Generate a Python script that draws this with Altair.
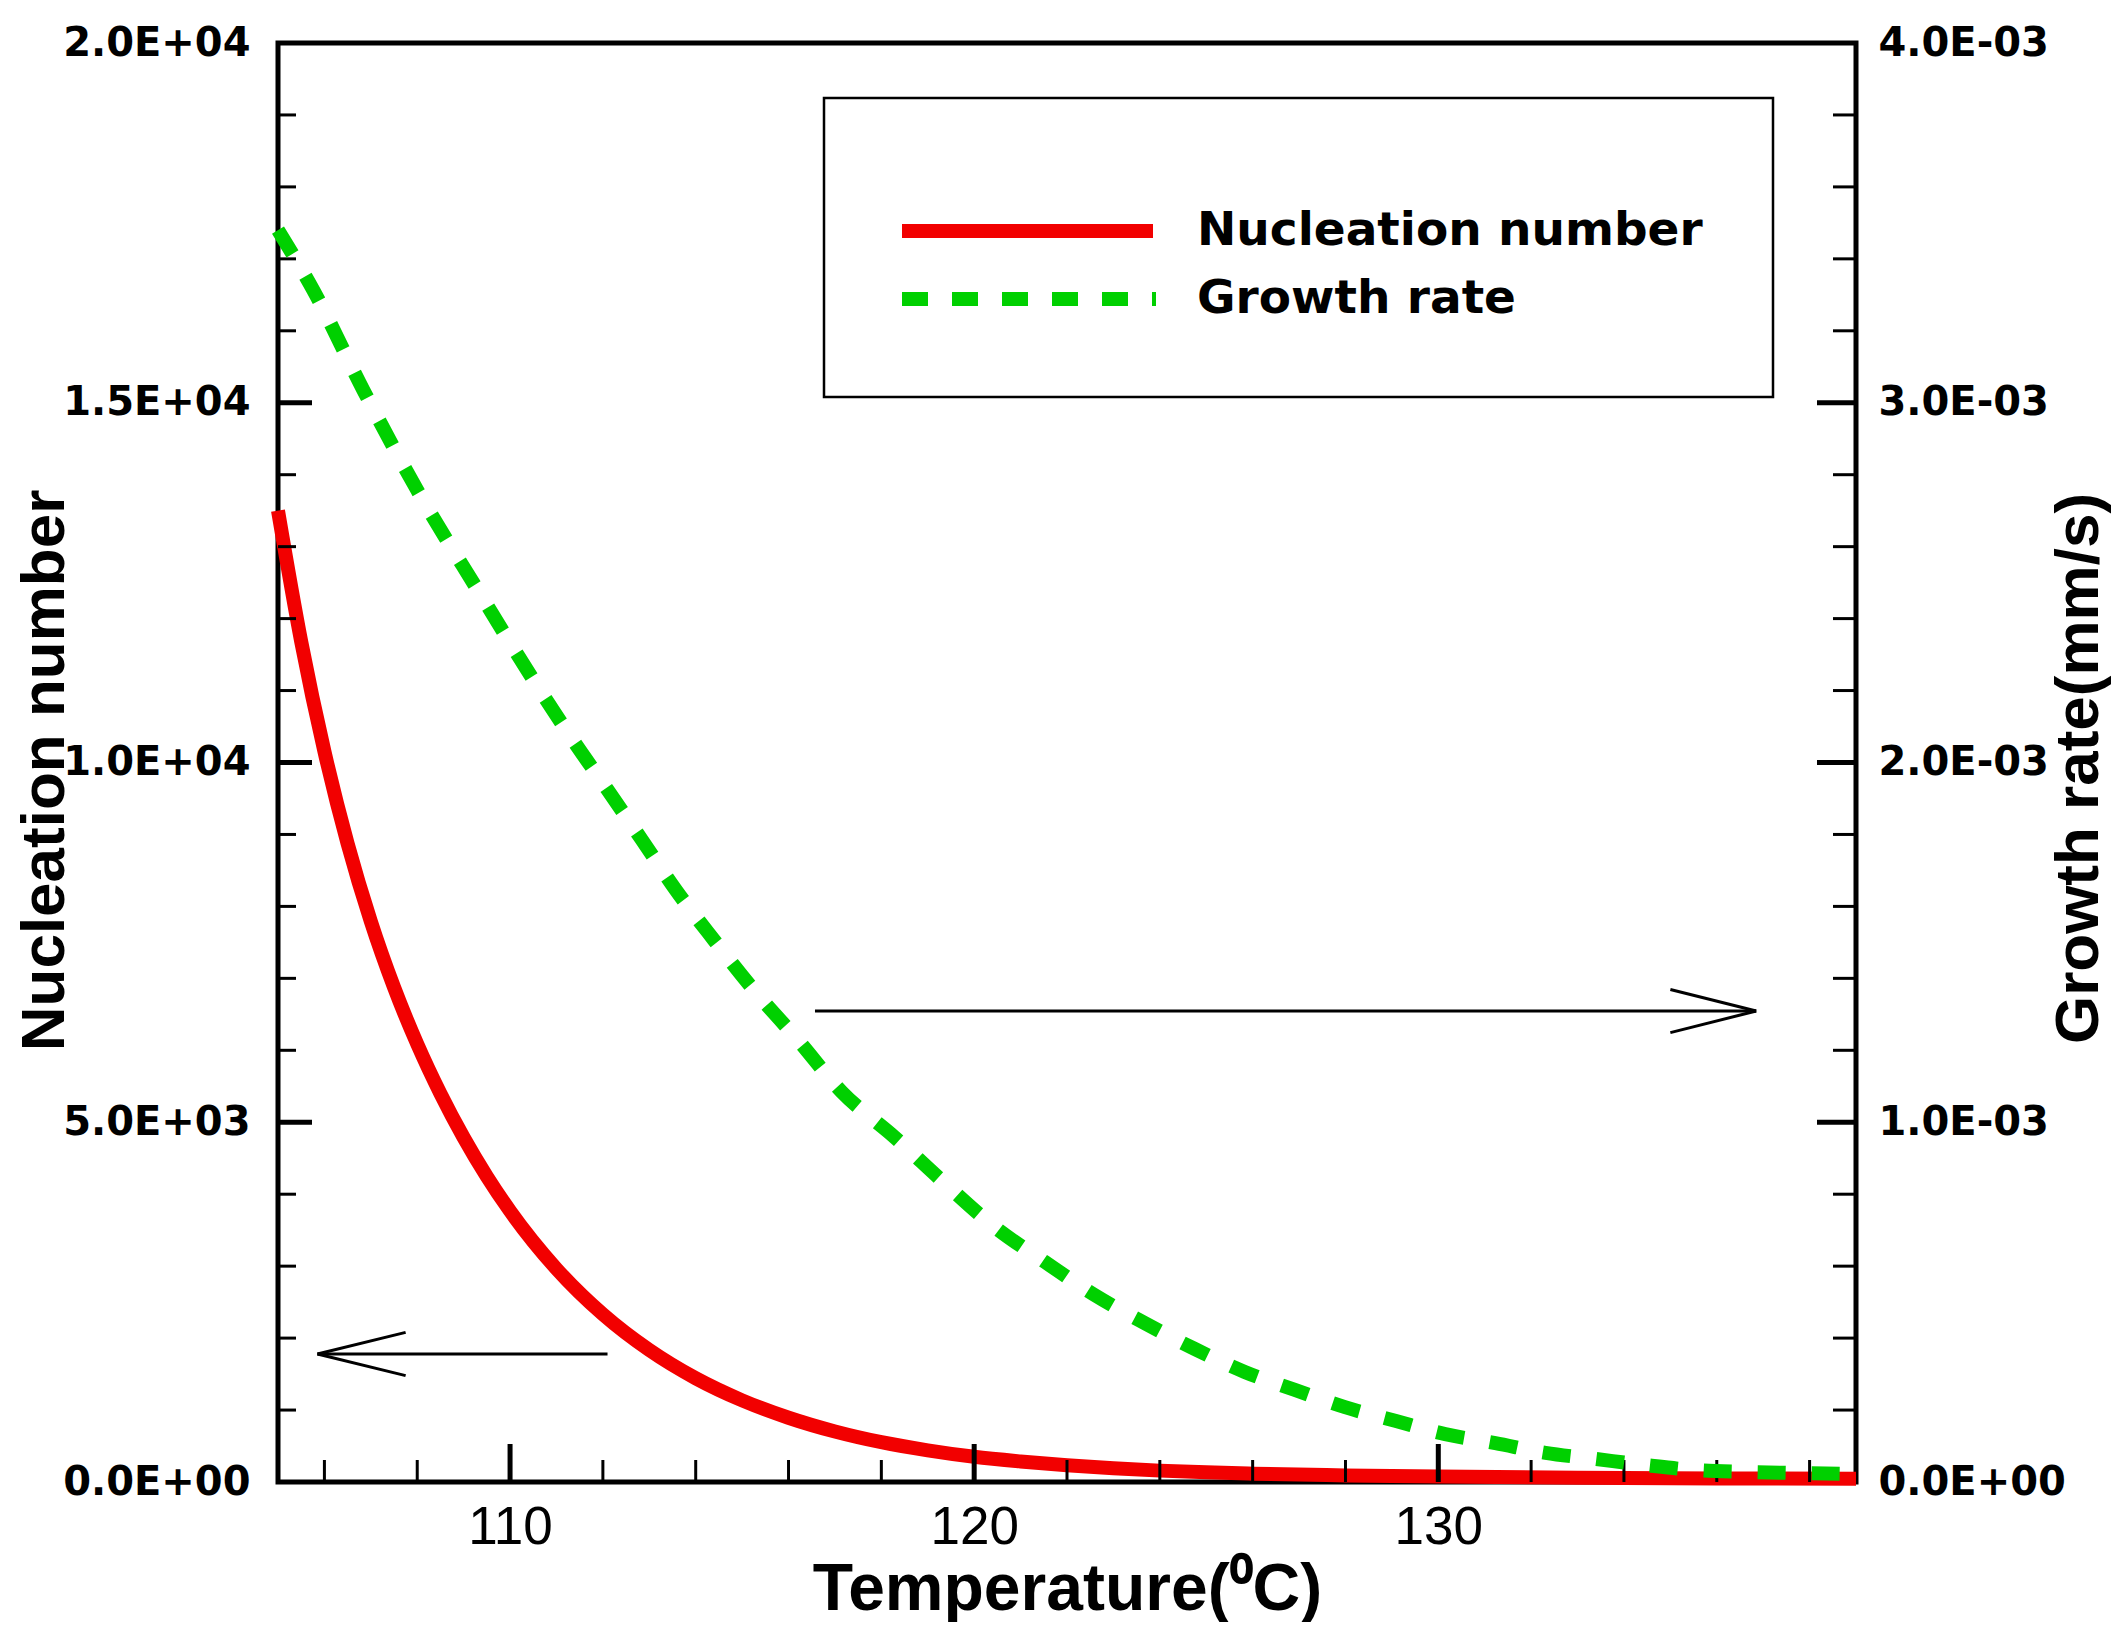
import altair as alt
import pandas as pd

# ---------------- data ----------------
temp_n = [105.0, 105.5, 106.0, 106.5, 107.0, 107.5, 108.0, 108.5, 109.0, 109.5,
          110.0, 111.0, 112.0, 113.0, 114.0, 115.0, 116.0, 117.0, 118.0, 119.0,
          120.0, 121.0, 122.0, 123.0, 124.0, 125.0, 126.0, 128.0, 130.0, 133.0, 136.0, 139.0]
nucleation = [13500, 11680, 10155, 8873, 7792, 6876, 6087, 5398, 4788, 4246,
              3766, 2963, 2331, 1834, 1442, 1135, 893, 702, 553, 440,
              350, 285, 232, 190, 158, 134, 116, 92, 75, 60, 50, 45]

temp_g = [105.0, 105.76, 106.84, 108.0, 109.3, 110.63, 111.35, 112.1, 112.84, 113.57,
          114.39, 115.25, 116.2, 117.15, 118.28, 119.36, 120.44, 121.52, 122.59, 123.67,
          124.75, 125.83, 126.91, 127.99, 129.07, 130.15, 131.23, 132.31, 133.39, 134.47,
          135.55, 136.63, 137.71, 139.0]
growth = [3.48e-3, 3.313e-3, 3.035e-3, 2.757e-3, 2.48e-3, 2.204e-3, 2.063e-3, 1.924e-3, 1.785e-3, 1.646e-3,
          1.507e-3, 1.368e-3, 1.229e-3, 1.084e-3, 0.959e-3, 0.831e-3, 0.709e-3, 0.612e-3, 0.52e-3, 0.442e-3,
          0.37e-3, 0.306e-3, 0.256e-3, 0.208e-3, 0.17e-3, 0.133e-3, 0.108e-3, 0.081e-3, 0.064e-3, 0.047e-3,
          0.033e-3, 0.028e-3, 0.025e-3, 0.022e-3]

series_names = ["Nucleation number", "Growth rate"]
series_colors = ["#f20000", "#00d000"]

x_major = [110, 120, 130]
x_minor = [106, 108, 112, 114, 116, 118, 122, 124, 126, 128, 132, 134, 136, 138]
y_major = [0, 5000, 10000, 15000, 20000]
y_minor = [1000, 2000, 3000, 4000, 6000, 7000, 8000, 9000, 11000, 12000, 13000, 14000,
           16000, 17000, 18000, 19000]
y_left_labels = ["0.0E+00", "5.0E+03", "1.0E+04", "1.5E+04", "2.0E+04"]
y_right_values = [0.0, 0.001, 0.002, 0.003, 0.004]
y_right_labels = ["0.0E+00", "1.0E-03", "2.0E-03", "3.0E-03", "4.0E-03"]

# annotation arrows (in data units: temperature, nucleation number)
arrow_start = [116.57, 112.10]
arrow_tip = [136.85, 105.85]
arrow_head_base = [135.0, 107.75]
arrow_level = [6546, 1779]
arrow_half = [300, 300]

x_title = "Temperature(\u2070C)"
y_left_title = "Nucleation number"
y_right_title = "Growth rate(mm/s)"

# ---------------- layout ----------------
W, H = 1578, 1439
FONT = "Liberation Sans"
TICKFONT = "DejaVu Sans"

x_scale = alt.Scale(domain=[105, 139], nice=False, zero=False)
n_scale = alt.Scale(domain=[0, 20000], nice=False)
g_scale = alt.Scale(domain=[0, 0.004], nice=False)


def label_expr(values, labels, tol):
    expr = "''"
    for v, l in reversed(list(zip(values, labels))):
        expr = f"abs(datum.value - {v!r}) < {tol} ? '{l}' : ({expr})"
    return expr


df_n = pd.DataFrame({"T": temp_n, "N": nucleation})
df_g = pd.DataFrame({"T": temp_g, "G": growth})

x_axis = alt.Axis(values=x_major, title=x_title, labelFont=FONT, labelFontSize=53,
                  labelFontWeight="normal", labelBaseline="alphabetic", labelPadding=61,
                  labelLimit=600,
                  titleFont=FONT, titleFontSize=66, titleFontWeight="bold",
                  titleX=789, titleY=127, titleBaseline="alphabetic", titleAlign="center")

left_axis = alt.Axis(values=y_major, labelExpr=label_expr(y_major, y_left_labels, 1),
                     labelFont=TICKFONT, labelFontSize=40, labelFontWeight="bold",
                     labelPadding=28, labelBaseline="middle", labelLimit=600,
                     title=y_left_title, titleFont=FONT, titleFontSize=62, titleFontWeight="bold",
                     titleAngle=270, titleX=-215, titleY=727, titleBaseline="alphabetic",
                     titleAlign="center")

right_axis = alt.Axis(orient="right", values=y_right_values,
                      labelExpr=label_expr(y_right_values, y_right_labels, 1e-7),
                      labelFont=TICKFONT, labelFontSize=40, labelFontWeight="bold",
                      labelPadding=22, labelBaseline="middle", labelLimit=600,
                      title=y_right_title, titleFont=FONT, titleFontSize=62, titleFontWeight="bold",
                      titleAngle=270, titleX=241, titleY=725, titleBaseline="alphabetic",
                      titleAlign="center")

red = alt.Chart(df_n).mark_line(color=series_colors[0], strokeWidth=14,
                                interpolate="monotone", strokeCap="butt").encode(
    x=alt.X("T:Q", scale=x_scale, axis=x_axis),
    y=alt.Y("N:Q", scale=n_scale, axis=left_axis),
)

green = alt.Chart(df_g).mark_line(color=series_colors[1], strokeWidth=14,
                                  interpolate="monotone", strokeDash=[28, 26],
                                  strokeCap="butt").encode(
    x=alt.X("T:Q", scale=x_scale, axis=x_axis),
    y=alt.Y("G:Q", scale=g_scale, axis=right_axis),
)


def ytick_layer(values, x0, x1, sw):
    return alt.Chart(pd.DataFrame({"v": values})).mark_rule(color="black", strokeWidth=sw).encode(
        y=alt.Y("v:Q", scale=n_scale, axis=left_axis), x=alt.value(x0), x2=alt.value(x1))


def xtick_layer(values, length, sw):
    return alt.Chart(pd.DataFrame({"v": values})).mark_rule(color="black", strokeWidth=sw).encode(
        x=alt.X("v:Q", scale=x_scale, axis=x_axis), y=alt.value(H), y2=alt.value(H - length))


ticks = [
    ytick_layer(y_minor, 0, 18, 3),
    ytick_layer(y_major[1:-1], 0, 34, 5),
    ytick_layer(y_minor, W - 23, W, 3),
    ytick_layer(y_major[1:-1], W - 39, W, 5),
    xtick_layer(x_minor, 22, 3),
    xtick_layer(x_major, 38, 5),
]

shafts = pd.DataFrame({"x1": arrow_start, "x2": arrow_tip, "y": arrow_level})
heads = pd.DataFrame({
    "x1": arrow_tip + arrow_tip,
    "x2": arrow_head_base + arrow_head_base,
    "y1": arrow_level + arrow_level,
    "y2": [l + h for l, h in zip(arrow_level, arrow_half)] + [l - h for l, h in zip(arrow_level, arrow_half)],
})

shaft_layer = alt.Chart(shafts).mark_rule(color="black", strokeWidth=3).encode(
    x=alt.X("x1:Q", scale=x_scale, axis=x_axis), x2="x2:Q",
    y=alt.Y("y:Q", scale=n_scale, axis=left_axis))
head_layer = alt.Chart(heads).mark_rule(color="black", strokeWidth=3).encode(
    x=alt.X("x1:Q", scale=x_scale, axis=x_axis), x2="x2:Q",
    y=alt.Y("y1:Q", scale=n_scale, axis=left_axis), y2="y2:Q")

# legend box
one = pd.DataFrame({"k": [0]})
leg_box = alt.Chart(one).mark_rect(fill="white", stroke="black", strokeWidth=2.5).encode(
    x=alt.value(546), x2=alt.value(1495), y=alt.value(55), y2=alt.value(354))
leg_red = alt.Chart(one).mark_rule(color=series_colors[0], strokeWidth=14, strokeCap="butt").encode(
    x=alt.value(624), x2=alt.value(875), y=alt.value(188))
leg_green = alt.Chart(one).mark_rule(color=series_colors[1], strokeWidth=14, strokeDash=[26, 24],
                                     strokeCap="butt").encode(
    x=alt.value(624), x2=alt.value(878), y=alt.value(256))
leg_texts = [
    alt.Chart(one).mark_text(align="left", baseline="middle", font=TICKFONT, fontSize=47,
                             fontWeight="bold", color="black", text=name).encode(
        x=alt.value(919), y=alt.value(yy))
    for name, yy in zip(series_names, [188, 256])
]

left_group = alt.layer(red, *ticks, shaft_layer, head_layer, leg_box, leg_red, leg_green, *leg_texts)

chart = alt.layer(left_group, green).resolve_scale(y="independent").properties(
    width=W, height=H,
    autosize=alt.AutoSizeParams(type="none"),
    padding={"left": 270, "top": 35, "right": 255, "bottom": 140},
).configure_view(stroke="black", strokeWidth=5).configure_axis(
    domain=False, grid=False, ticks=False, tickSize=0, labelColor="black", titleColor="black"
)

chart.save("out.html", embed_options={"renderer": "svg", "actions": False})
